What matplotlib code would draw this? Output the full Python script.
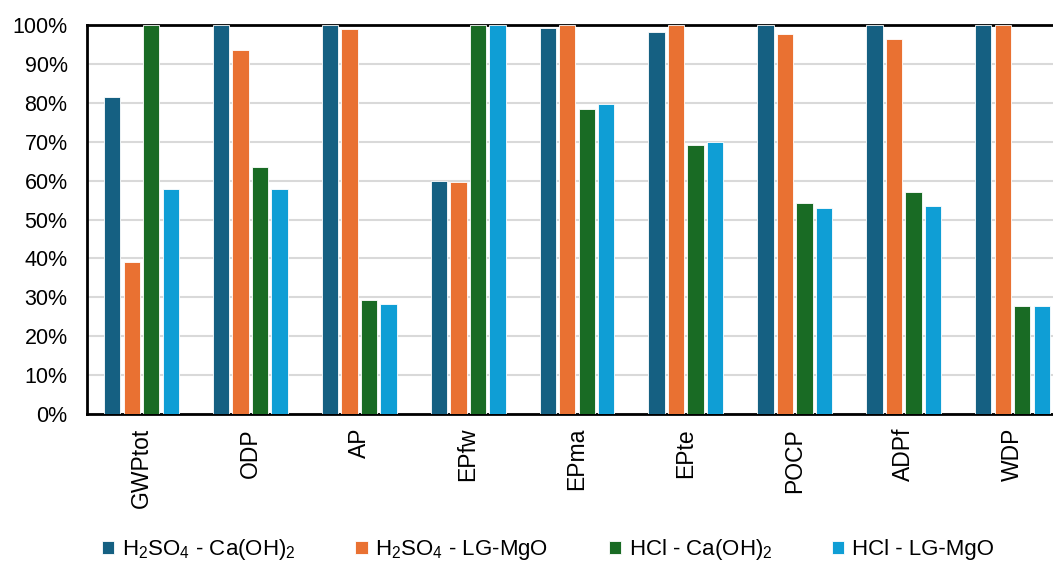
import matplotlib.pyplot as plt
import numpy as np
from matplotlib.ticker import PercentFormatter

plt.rcParams['font.family'] = ['Liberation Sans', 'DejaVu Sans']
plt.rcParams['mathtext.fontset'] = 'custom'
plt.rcParams['mathtext.rm'] = 'Liberation Sans'
plt.rcParams['mathtext.default'] = 'regular'

categories = ['GWPtot', 'ODP', 'AP', 'EPfw', 'EPma', 'EPte', 'POCP', 'ADPf', 'WDP']
h2so4_caoh2 = [81.5, 100, 100, 60.0, 99.2, 98.1, 100, 100, 100]
h2so4_lgmgo = [39.0, 93.7, 99.0, 59.7, 100, 100, 97.8, 96.4, 100]
hcl_caoh2 = [100, 63.4, 29.2, 100, 78.3, 69.1, 54.3, 57.0, 27.7]
hcl_lgmgo = [57.8, 57.8, 28.4, 100, 79.8, 70.0, 52.9, 53.5, 27.7]

series = [h2so4_caoh2, h2so4_lgmgo, hcl_caoh2, hcl_lgmgo]
labels = [r'H$_2$SO$_4$ - Ca(OH)$_2$', r'H$_2$SO$_4$ - LG-MgO',
          r'HCl - Ca(OH)$_2$', 'HCl - LG-MgO']
colors = ['#156082', '#E97132', '#196B24', '#0F9ED5']

fig = plt.figure(figsize=(10.53, 5.64), dpi=100)
# axes runs past the right edge of the canvas, as in the reference
ax = fig.add_axes([87 / 1053, 1 - 414 / 564, 980 / 1053, 389 / 564])

x = np.arange(len(categories))
step = 0.179
for i, (vals, lab, col) in enumerate(zip(series, labels, colors)):
    ax.bar(x + (i - 1.5) * step, vals, width=0.15, color=col, label=lab,
           edgecolor='white', linewidth=0.6, zorder=3)

ax.set_xlim(-0.5, len(categories) - 0.5)
ax.set_ylim(0, 100)
ax.set_yticks(np.arange(0, 101, 10))
ax.yaxis.set_major_formatter(PercentFormatter(decimals=0))
ax.grid(axis='y', color='#D9D9D9', linewidth=1.5, zorder=0)
ax.set_xticks(x)
ax.set_xticklabels(categories, rotation=90)
ax.tick_params(axis='y', length=0, labelsize=15.5, colors='#000000', pad=14)
ax.tick_params(axis='x', length=0, labelsize=16.5, colors='#000000', pad=10)
for side in ['left', 'bottom', 'top', 'right']:
    ax.spines[side].set_linewidth(2)
    ax.spines[side].set_color('black')

fig.legend(loc='center', bbox_to_anchor=(548 / 1053, 1 - 550 / 564), ncol=4,
           frameon=False, fontsize=16, handlelength=0.55, handleheight=0.55,
           handletextpad=0.35, columnspacing=2.7)

fig.savefig('out.png', dpi=100)
